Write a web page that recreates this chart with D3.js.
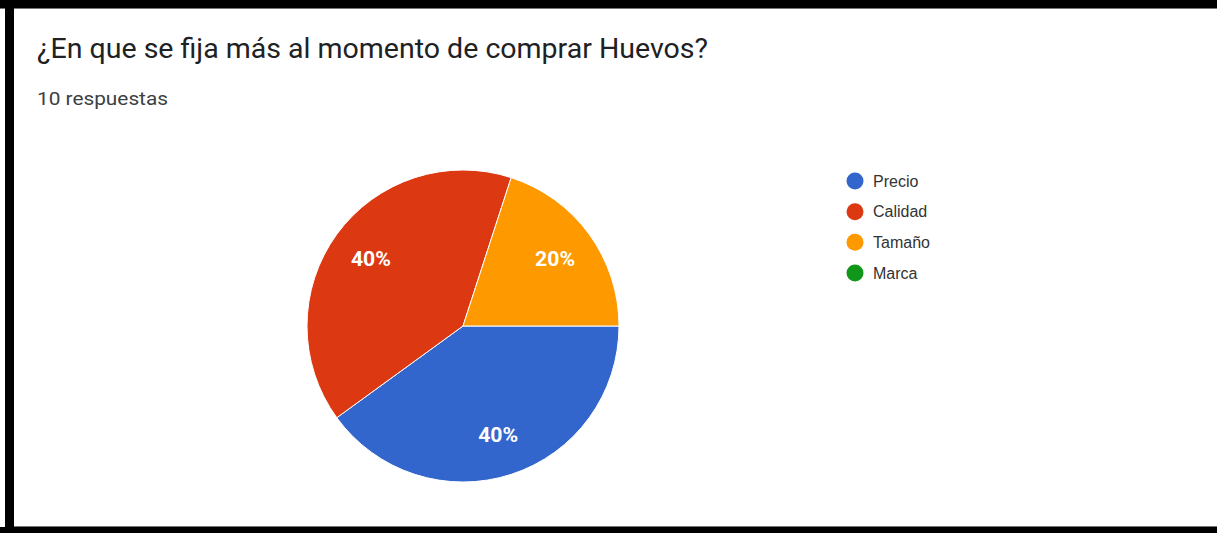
<!DOCTYPE html>
<html>
<head>
<meta charset="utf-8">
<script src="https://cdn.jsdelivr.net/npm/d3@7/dist/d3.min.js"></script>
<style>
  html, body { margin: 0; padding: 0; background: #fff; }
  svg { display: block; }
</style>
</head>
<body>
<svg id="chart" width="1217" height="533"></svg>
<script>
// Survey answers
const title = "¿En que se fija más al momento de comprar Huevos?";
const subtitle = "10 respuestas";
const categories = ["Precio", "Calidad", "Tamaño", "Marca"];
const counts = [4, 4, 2, 0];
const colors = ["#3366cc", "#dc3912", "#ff9900", "#109618"];

const W = 1217, H = 533;
const svg = d3.select("#chart");

// Frame around the card
svg.append("rect").attr("x", 0).attr("y", 0).attr("width", W).attr("height", 9).attr("fill", "#000");
svg.append("rect").attr("x", 0).attr("y", 8).attr("width", W).attr("height", 1).attr("fill", "#777");
svg.append("rect").attr("x", 5).attr("y", 0).attr("width", 9).attr("height", H).attr("fill", "#000");
svg.append("rect").attr("x", 14).attr("y", 526).attr("width", W - 14).attr("height", 1).attr("fill", "#777");
svg.append("rect").attr("x", 0).attr("y", 527).attr("width", W).attr("height", 6).attr("fill", "#000");

// Heading
svg.append("text")
  .attr("x", 37).attr("y", 58)
  .attr("font-family", "Roboto, sans-serif")
  .attr("font-size", 28)
  .attr("textLength", 671)
  .attr("lengthAdjust", "spacingAndGlyphs")
  .attr("fill", "#202124")
  .text(title);
svg.append("text")
  .attr("x", 37).attr("y", 105)
  .attr("font-family", "Roboto, sans-serif")
  .attr("font-size", 19)
  .attr("textLength", 131)
  .attr("lengthAdjust", "spacingAndGlyphs")
  .attr("fill", "#3c4043")
  .text(subtitle);

// Pie
const cx = 463, cy = 326, R = 156;
const total = d3.sum(counts);
const data = categories.map((c, i) => ({ name: c, value: counts[i], color: colors[i] }));

const pie = d3.pie()
  .value(d => d.value)
  .sort(null)
  .startAngle(Math.PI / 2)
  .endAngle(Math.PI / 2 + 2 * Math.PI);

const arc = d3.arc().innerRadius(0).outerRadius(R);
const labelArc = d3.arc().innerRadius(R * 0.73).outerRadius(R * 0.73);

const g = svg.append("g").attr("transform", `translate(${cx},${cy})`);
const arcs = pie(data).filter(d => d.data.value > 0);

g.selectAll("path.slice")
  .data(arcs)
  .join("path")
  .attr("class", "slice")
  .attr("d", arc)
  .attr("fill", d => d.data.color)
  .attr("stroke", "#fff")
  .attr("stroke-width", 1);

g.selectAll("text.pct")
  .data(arcs)
  .join("text")
  .attr("class", "pct")
  .attr("x", d => labelArc.centroid(d)[0] - 20)
  .attr("y", d => labelArc.centroid(d)[1])
  .attr("dy", "0.36em")
  .attr("font-family", "Roboto, Arial, sans-serif")
  .attr("font-size", 20)
  .attr("font-weight", "bold")
  .attr("textLength", 40)
  .attr("lengthAdjust", "spacingAndGlyphs")
  .attr("fill", "#fff")
  .text(d => Math.round(d.data.value / total * 100) + "%");

// Legend
const legendY = d3.scalePoint().domain(categories).range([181, 273]);
const lg = svg.append("g");
const items = lg.selectAll("g.item").data(data).join("g")
  .attr("class", "item")
  .attr("transform", d => `translate(855,${legendY(d.name)})`);
items.append("circle").attr("r", 8.5).attr("fill", d => d.color);
items.append("text")
  .attr("x", 18).attr("dy", "0.35em")
  .attr("font-family", "Arial, 'Liberation Sans', sans-serif")
  .attr("font-size", 16)
  .attr("fill", "#333")
  .text(d => d.name);
</script>
</body>
</html>
